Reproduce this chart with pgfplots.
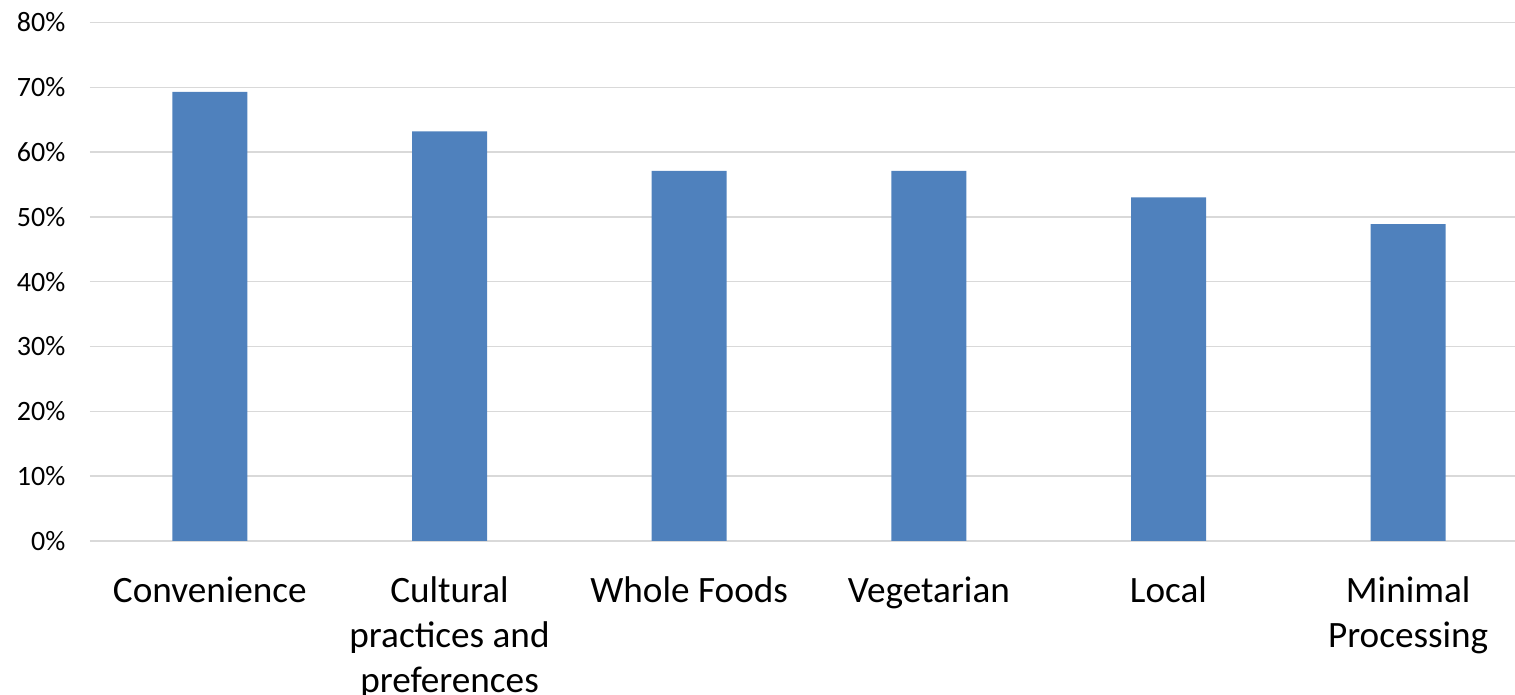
\documentclass[border=0pt]{standalone}
\usepackage{fontspec}
\setmainfont{Carlito}
\usepackage{pgfplots}
\pgfplotsset{compat=1.18}
\definecolor{barblue}{HTML}{4F81BD}
\definecolor{gridgray}{HTML}{D9D9D9}
\begin{document}
\begin{tikzpicture}
\begin{axis}[name=ax, scale only axis, width=719pt, height=259.25pt,
  xmin=-0.5, xmax=5.5, ymin=0, ymax=80,
  ytick={0,10,...,80},
  yticklabels={0\%,10\%,20\%,30\%,40\%,50\%,60\%,70\%,80\%},
  xtick={0,...,5},
  xticklabels={Convenience,Cultural\\practices and\\preferences,Whole Foods,Vegetarian,Local,Minimal\\Processing},
  axis line style={draw=none}, major tick length=0pt,
  ymajorgrids, grid style={gridgray, line width=0.75pt},
  y tick label style={font=\fontsize{14}{16.8}\selectfont, xshift=-8.8pt},
  x tick label style={font=\fontsize{18.6}{22.5}\selectfont, align=center, yshift=-14.3pt},
  clip=false]
\addplot[ybar, bar width=37.5pt, fill=barblue, draw=none] coordinates {(0,69.3) (1,63.2) (2,57.1) (3,57.1) (4,53.0) (5,48.9)};
\end{axis}
\pgfresetboundingbox
\path[use as bounding box] ([xshift=-45pt, yshift=-77pt]ax.south west) rectangle ([xshift=-6.5pt, yshift=11.25pt]ax.north east);
\end{tikzpicture}
\end{document}
